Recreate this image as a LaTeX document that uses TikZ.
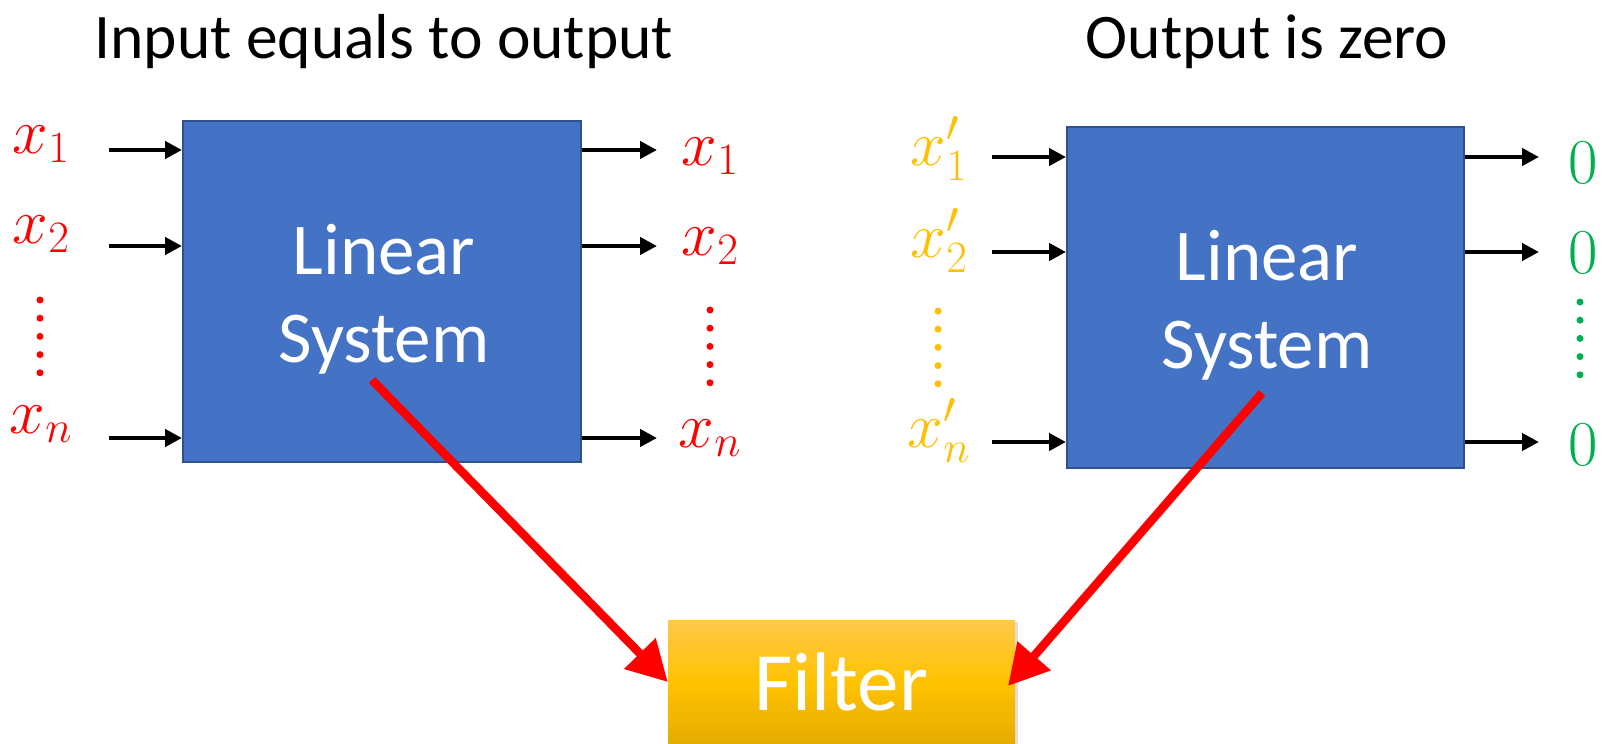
\RequirePackage{fix-cm}
\documentclass[tikz,border=0pt]{standalone}
\usepackage{fontspec}
\setmainfont{Carlito}
\usetikzlibrary{arrows.meta,shadows,calc}
\definecolor{boxblue}{HTML}{4472C4}
\definecolor{boxedge}{HTML}{2F528F}
\definecolor{xred}{HTML}{FF0000}
\definecolor{xorange}{HTML}{FFC000}
\definecolor{xgreen}{HTML}{00B050}
\definecolor{ftop}{HTML}{FFC84A}
\definecolor{fmid}{HTML}{FFC300}
\definecolor{fbot}{HTML}{E5AC00}
\tikzset{
  sysbox/.style={draw=boxedge, line width=2pt, fill=boxblue, inner sep=0pt},
  systext/.style={text=white, align=center, font=\fontsize{73}{88}\selectfont, inner sep=0pt},
  title/.style={font=\fontsize{63.5}{70}\selectfont, anchor=base, inner sep=0pt},
  sig/.style={font=\fontsize{64}{70}\selectfont, anchor=base, inner sep=0pt},
  io/.style={line width=4.5pt, -{Triangle[length=17pt,width=17pt]}},
  bigarrow/.style={line width=8.5pt, draw=xred, -{Triangle[length=40pt,width=42pt]}},
  vdots/.style={line width=7pt, line cap=round, dash pattern=on 0pt off 18.2pt},
}
\begin{document}
\begin{tikzpicture}[x=1pt,y=-1pt]
\useasboundingbox (0,0) rectangle (1606,744);
% titles
\node[title] (t1) at (384,58) {Input equals to output};
\node[title] (t2) at (1267,58) {Output is zero};
% boxes
\node[sysbox, minimum width=398pt, minimum height=341pt] (b1) at (382,291.5) {};
\node[systext] (b1t) at (384,299) {Linear\\System};
\node[sysbox, minimum width=397pt, minimum height=341pt] (b2) at (1265.5,297.5) {};
\node[systext] (b2t) at (1267,305) {Linear\\System};
% filter
\node[minimum width=347pt, minimum height=124pt, inner sep=0pt,
      top color=ftop, bottom color=fbot, middle color=fmid,
      drop shadow={shadow xshift=3pt, shadow yshift=-2pt, opacity=0.25, fill=gray},
      text=white, font=\fontsize{83}{90}\selectfont] (filter) at (841.5,682) {Filter};
% left inputs
\node[sig, text=xred] (li1) at (41,153) {$x_1$};
\node[sig, text=xred] (li2) at (41,243) {$x_2$};
\node[sig, text=xred] (lin) at (41,433) {$x_n$};
\coordinate (lia1) at (109,150); \coordinate (lia2) at (109,246); \coordinate (lian) at (109,438);
\draw[io] (lia1) -- (lia1 -| b1.west);
\draw[io] (lia2) -- (lia2 -| b1.west);
\draw[io] (lian) -- (lian -| b1.west);
\coordinate (ld1) at (40,300); \coordinate (ld2) at (40,374);
\draw[vdots, xred] (ld1) -- (ld2);
% left outputs
\coordinate (loa1) at (657,150); \coordinate (loa2) at (657,246); \coordinate (loan) at (657,438);
\draw[io] (loa1 -| b1.east) -- (loa1);
\draw[io] (loa2 -| b1.east) -- (loa2);
\draw[io] (loan -| b1.east) -- (loan);
\node[sig, text=xred] (lo1) at (710,165) {$x_1$};
\node[sig, text=xred] (lo2) at (710,255) {$x_2$};
\node[sig, text=xred] (lon) at (710,447) {$x_n$};
\coordinate (lod1) at (710,310); \coordinate (lod2) at (710,384);
\draw[vdots, xred] (lod1) -- (lod2);
% right inputs
\node[sig, text=xorange] (ri1) at (939,165) {$x'_1$};
\node[sig, text=xorange] (ri2) at (939,257) {$x'_2$};
\node[sig, text=xorange] (rin) at (939,447) {$x'_n$};
\coordinate (ria1) at (992,157); \coordinate (ria2) at (992,252); \coordinate (rian) at (992,442);
\draw[io] (ria1) -- (ria1 -| b2.west);
\draw[io] (ria2) -- (ria2 -| b2.west);
\draw[io] (rian) -- (rian -| b2.west);
\coordinate (rd1) at (938,311); \coordinate (rd2) at (938,385);
\draw[vdots, xorange] (rd1) -- (rd2);
% right outputs
\coordinate (roa1) at (1539,157); \coordinate (roa2) at (1539,252); \coordinate (roan) at (1539,442);
\draw[io] (roa1 -| b2.east) -- (roa1);
\draw[io] (roa2 -| b2.east) -- (roa2);
\draw[io] (roan -| b2.east) -- (roan);
\node[sig, text=xgreen] (ro1) at (1583,183) {$0$};
\node[sig, text=xgreen] (ro2) at (1583,273) {$0$};
\node[sig, text=xgreen] (ron) at (1583,465) {$0$};
\coordinate (rod1) at (1580,302); \coordinate (rod2) at (1580,376);
\draw[vdots, xgreen] (rod1) -- (rod2);
% red arrows
\coordinate (s1) at (372,380);
\coordinate (s2) at (1262,393);
\coordinate (e2) at (1008,686);
\draw[bigarrow] (s1) -- (filter.west);
\draw[bigarrow] (s2) -- (e2);
\end{tikzpicture}
\end{document}
